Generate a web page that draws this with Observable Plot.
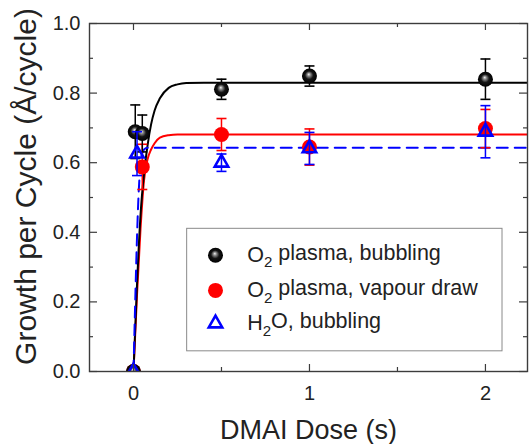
<!DOCTYPE html>
<html><head><meta charset="utf-8">
<script src="https://cdn.jsdelivr.net/npm/d3@7"></script>
<script src="https://cdn.jsdelivr.net/npm/@observablehq/plot@0.6"></script>
<style>
html,body{margin:0;padding:0;background:#fff;}
#chart{width:529px;height:444px;}
</style></head><body><div id="chart"></div>
<script>
// ---- data ----
const seriesNames = ["O₂ plasma, bubbling", "O₂ plasma, vapour draw", "H₂O, bubbling"];

const doseBlack = [0, 0.01, 0.05, 0.5, 1, 2];
const gpcBlack  = [0, 0.689, 0.684, 0.811, 0.849, 0.840];
const errBlack  = [0, 0.077, 0.053, 0.029, 0.029, 0.058];

const doseRed = [0, 0.05, 0.5, 1, 2];
const gpcRed  = [0, 0.588, 0.681, 0.645, 0.698];
const errRed  = [0, 0.065, 0.046, 0.052, 0.055];

const doseBlue = [0, 0.02, 0.5, 1, 2];
const gpcBlue  = [0, 0.626, 0.600, 0.641, 0.689];
const errBlue  = [0, 0.063, 0.025, 0.046, 0.075];

// fitted curves
const fitDose  = [0, 0.02, 0.04, 0.06, 0.08, 0.10, 0.12, 0.15, 0.20, 0.25, 0.30, 0.40, 2.25];
const fitBlack = [0, 0.25, 0.45, 0.57, 0.65, 0.71, 0.75, 0.785, 0.815, 0.825, 0.829, 0.830, 0.830];
const fitRed   = [0, 0.22, 0.41, 0.55, 0.61, 0.638, 0.656, 0.672, 0.679, 0.681, 0.681, 0.681, 0.681];
const fitDoseBlue = [0, 0.03, 0.045, 0.06, 0.08, 2.25];
const fitBlue     = [0, 0.52, 0.62, 0.638, 0.643, 0.643];

const xMajor = [0, 1, 2];
const xMinor = [0.5, 1.5];
const yMajor = [0, 0.2, 0.4, 0.6, 0.8, 1.0];
const yMinor = [0.1, 0.3, 0.5, 0.7, 0.9];

const xTitle = "DMAI Dose (s)";
const yTitle = "Growth per Cycle (Å/cycle)";

// ---- layout ----
const W = 529, H = 444, mL = 89, mR = 2, mT = 23, mB = 73;
const pw = W - mL - mR, ph = H - mT - mB;
const frameColor = "#3c3c3c";
const font = "'Liberation Sans', Arial, Helvetica, sans-serif";
const colors = ["#000000", "#ff0000", "#0000ff"];

// legend placement (in data units inside the frame)
const legendBox = {x1: 0.305, x2: 2.097, y1: 0.058, y2: 0.41};
const legendMarkX = 0.466, legendTextX = 0.646;
const legendRowY = [0.334, 0.233, 0.138];

const rows = (xs, ys, es) => xs.map((x, i) => ({x, y: ys[i], e: es[i]}));
const black = rows(doseBlack, gpcBlack, errBlack);
const red = rows(doseRed, gpcRed, errRed);
const blue = rows(doseBlue, gpcBlue, errBlue);
const fitRows = (xs, ys) => xs.map((x, i) => ({x, y: ys[i]}));

const cap = {draw(ctx) { ctx.moveTo(-5, 0); ctx.lineTo(5, 0); }};

function errorMarks(data, color) {
  const d = data.filter(r => r.e > 0);
  return [
    Plot.ruleX(d, {x: "x", y1: r => r.y - r.e, y2: r => r.y + r.e, stroke: color, strokeWidth: 1.5}),
    Plot.dot(d, {x: "x", y: r => r.y + r.e, symbol: cap, stroke: color, strokeWidth: 1.6, fill: "none"}),
    Plot.dot(d, {x: "x", y: r => r.y - r.e, symbol: cap, stroke: color, strokeWidth: 1.6, fill: "none"})
  ];
}

const legendRows = seriesNames.map((name, i) => ({name, i, y: legendRowY[i]}));

const chart = Plot.plot({
  width: W, height: H,
  marginLeft: mL, marginRight: mR, marginTop: mT, marginBottom: mB,
  style: {fontFamily: font, fontSize: "20px", color: "#222", background: "white"},
  x: {domain: [-0.25, 2.239]},
  y: {domain: [0, 1.0]},
  marks: [
    // fitted curves
    Plot.line(fitRows(fitDose, fitRed), {x: "x", y: "y", stroke: colors[1], strokeWidth: 2, curve: "monotone-x", clip: true}),
    Plot.line(fitRows(fitDose, fitBlack), {x: "x", y: "y", stroke: colors[0], strokeWidth: 2, curve: "monotone-x", clip: true}),
    Plot.line(fitRows(fitDoseBlue, fitBlue), {x: "x", y: "y", stroke: colors[2], strokeWidth: 2, strokeDasharray: "11 7", curve: "monotone-x", clip: true}),
    // red series
    ...errorMarks(red, colors[1]),
    Plot.dot(red, {x: "x", y: "y", r: 7.5, fill: colors[1], clip: true}),
    // black series
    ...errorMarks(black, colors[0]),
    Plot.dot(black, {x: "x", y: "y", r: 7.5, fill: "url(#gloss)", clip: true}),
    // blue series
    ...errorMarks(blue, colors[2]),
    Plot.dot(blue, {x: "x", y: "y", r: 5, symbol: "triangle", stroke: colors[2], strokeWidth: 2.6, fill: "none", clip: true}),
    // legend
    Plot.rect([legendBox], {x1: "x1", x2: "x2", y1: "y1", y2: "y2", fill: "white", stroke: "#8a8a8a", strokeWidth: 1}),
    Plot.dot(legendRows.filter(d => d.i === 0), {x: () => legendMarkX, y: "y", r: 7.5, fill: "url(#gloss)"}),
    Plot.dot(legendRows.filter(d => d.i === 1), {x: () => legendMarkX, y: "y", r: 7.5, fill: colors[1]}),
    Plot.dot(legendRows.filter(d => d.i === 2), {x: () => legendMarkX, y: "y", r: 5, symbol: "triangle", stroke: colors[2], strokeWidth: 2.6, fill: "none"}),
    Plot.text(legendRows, {x: () => legendTextX, y: "y", text: "name", textAnchor: "start", lineAnchor: "middle", fontSize: 21.5, fill: "#222"}),
    // frame and inward ticks
    Plot.frame({stroke: frameColor, strokeWidth: 1.4}),
    Plot.tickX(xMajor, {x: d => d, insetTop: ph - 7, stroke: frameColor, strokeWidth: 1.2}),
    Plot.tickX(xMajor, {x: d => d, insetBottom: ph - 7, stroke: frameColor, strokeWidth: 1.2}),
    Plot.tickX(xMinor, {x: d => d, insetTop: ph - 4, stroke: frameColor, strokeWidth: 1.2}),
    Plot.tickX(xMinor, {x: d => d, insetBottom: ph - 4, stroke: frameColor, strokeWidth: 1.2}),
    Plot.tickY(yMajor, {y: d => d, insetRight: pw - 8, stroke: frameColor, strokeWidth: 1.2}),
    Plot.tickY(yMajor, {y: d => d, insetLeft: pw - 8, stroke: frameColor, strokeWidth: 1.2}),
    Plot.tickY(yMinor, {y: d => d, insetRight: pw - 4, stroke: frameColor, strokeWidth: 1.2}),
    Plot.tickY(yMinor, {y: d => d, insetLeft: pw - 4, stroke: frameColor, strokeWidth: 1.2}),
    // tick labels
    Plot.axisX({ticks: xMajor, tickSize: 0, tickPadding: 14, tickFormat: d3.format("d"), label: null, fontSize: 20, fill: "#222"}),
    Plot.axisY({ticks: yMajor, tickSize: 0, tickPadding: 9, tickFormat: d3.format(".1f"), label: null, fontSize: 20, fill: "#222"}),
    // axis titles
    Plot.text([xTitle], {frameAnchor: "bottom", text: d => d, dy: 59, textAnchor: "middle", lineAnchor: "middle", fontSize: 27, fill: "#222"}),
    Plot.text([yTitle], {frameAnchor: "left", text: d => d, dx: -63, dy: -11, rotate: -90, textAnchor: "middle", lineAnchor: "middle", fontSize: 30, fill: "#222"})
  ]
});

// glossy sphere gradient for the black markers
const defs = d3.select(chart).insert("defs", ":first-child");
const g = defs.append("radialGradient").attr("id", "gloss")
  .attr("cx", "50%").attr("cy", "50%").attr("r", "50%").attr("fx", "45%").attr("fy", "38%");
g.append("stop").attr("offset", "0%").attr("stop-color", "#f4f4f4");
g.append("stop").attr("offset", "22%").attr("stop-color", "#8a8a8a");
g.append("stop").attr("offset", "55%").attr("stop-color", "#141414");
g.append("stop").attr("offset", "100%").attr("stop-color", "#000");

// subscripts for chemical formulae
d3.select(chart).selectAll("text").each(function() {
  const t = this.textContent;
  if (!t.includes("₂") || this.querySelector("tspan")) return;
  const parts = t.split("₂");
  const sel = d3.select(this);
  sel.text(null);
  parts.forEach((p, i) => {
    if (i > 0) {
      sel.append("tspan").attr("dy", "0.35em").attr("font-size", "0.7em").text("2");
      sel.append("tspan").attr("dy", "-0.35em").text(p);
    } else {
      sel.append("tspan").text(p);
    }
  });
});

document.getElementById("chart").appendChild(chart);
</script>
</body></html>
